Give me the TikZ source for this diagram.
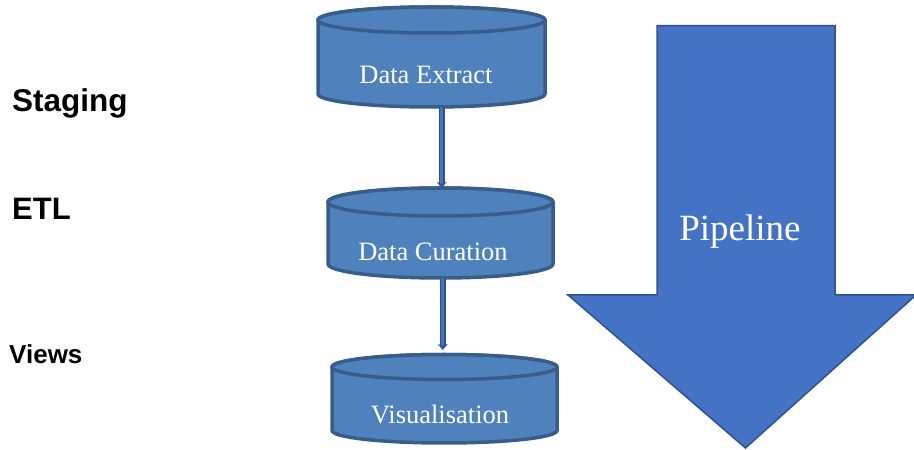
\documentclass[tikz,border=0pt]{standalone}
\usepackage{fontspec}
\setmainfont{Liberation Serif}
\setsansfont{Liberation Sans}
\usetikzlibrary{arrows.meta}
\definecolor{cylfill}{HTML}{4F81BD}
\definecolor{cylline}{HTML}{385D8A}
\definecolor{bigfill}{HTML}{4472C4}
\definecolor{bigline}{HTML}{2F528F}
\tikzset{
  cyl/.style={fill=cylfill, draw=cylline, line width=3.5pt, line join=round},
  cyltext/.style={text=white, inner sep=0pt, font=\fontsize{26.5}{30}\selectfont},
  sidelabel/.style={anchor=base west, inner sep=0pt, font=\sffamily\bfseries},
  conn/.style={draw=bigline, line width=1.5pt, double=bigfill, double distance=2.6pt,
    -{Stealth[length=6pt,width=10pt,fill=bigfill]}},
  bigarrow/.style={fill=bigfill, draw=bigline, line width=1.5pt, line join=miter}
}
\begin{document}
\begin{tikzpicture}[x=1pt,y=1pt]
\useasboundingbox (0,0) rectangle (914,450);
% big pipeline arrow
\draw[bigarrow] (657,424.3) -- (835,424.3) -- (835,155) -- (916,155) -- (745.5,2)
  -- (568,155) -- (657,155) -- cycle;
\node[text=white, inner sep=0pt, font=\fontsize{37}{40}\selectfont] (pipe) at (740,218) {Pipeline};
% cylinder 1
\draw[cyl] (318,430) -- (318,356) arc[start angle=180, end angle=360, x radius=113.5, y radius=13]
  -- (545,430) arc[start angle=0, end angle=180, x radius=113.5, y radius=13] -- cycle;
\draw[cyl] (431.5,430) ellipse[x radius=113.5, y radius=13];
\node[cyltext] (c1) at (426,375) {Data Extract};
\coordinate (c1b) at (441.7,343);
% cylinder 2
\draw[cyl] (328,248) -- (328,186) arc[start angle=180, end angle=360, x radius=112.5, y radius=14]
  -- (553,248) arc[start angle=0, end angle=180, x radius=112.5, y radius=14] -- cycle;
\draw[cyl] (440.5,248) ellipse[x radius=112.5, y radius=14];
\node[cyltext] (c2) at (433,198) {Data Curation};
\coordinate (c2t) at (441.7,262);
\coordinate (c2b) at (442.7,172);
% cylinder 3
\draw[cyl] (332,83) -- (332,19.5) arc[start angle=180, end angle=360, x radius=112.5, y radius=12.5]
  -- (557,83) arc[start angle=0, end angle=180, x radius=112.5, y radius=12.5] -- cycle;
\draw[cyl] (444.5,83) ellipse[x radius=112.5, y radius=12.5];
\node[cyltext] (c3) at (440,35) {Visualisation};
\coordinate (c3t) at (442.7,100);
% connectors
\draw[conn] (c1b) -- (c2t);
\draw[conn] (c2b) -- (c3t);
% side labels
\node[sidelabel, font=\sffamily\bfseries\fontsize{31.5}{34}\selectfont] (staging) at (12,338) {Staging};
\node[sidelabel, font=\sffamily\bfseries\fontsize{31}{34}\selectfont] (etl) at (12,230) {ETL};
\node[sidelabel, font=\sffamily\bfseries\fontsize{26}{28}\selectfont] (views) at (9,86) {Views};
\end{tikzpicture}
\end{document}
